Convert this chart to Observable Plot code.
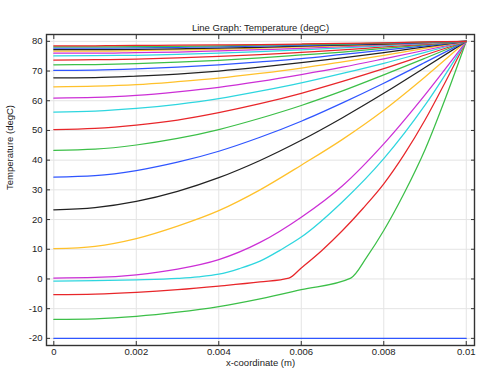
<!DOCTYPE html>
<html><head><meta charset="utf-8">
<script src="https://cdn.jsdelivr.net/npm/d3@7"></script>
<script src="https://cdn.jsdelivr.net/npm/@observablehq/plot@0.6"></script>
<style>html,body{margin:0;padding:0;background:#fff;}</style>
</head><body><div id="chart"></div>
<script>
// ---- text ----
const titleText = "Line Graph: Temperature (degC)";
const xLabelText = "x-coordinate (m)";
const yLabelText = "Temperature (degC)";

// ---- ticks ----
const xTicks = [0, 0.002, 0.004, 0.006, 0.008, 0.01];
const xTickLabels = ["0", "0.002", "0.004", "0.006", "0.008", "0.01"];
const yTicks = [-20, -10, 0, 10, 20, 30, 40, 50, 60, 70, 80];

// ---- colour cycle ----
const palette = ["#2f55ff", "#3cbf48", "#e8262a", "#2ed6df", "#cc2fd6", "#ffc12b", "#222222"];

// ---- x sample positions ----
const X11 = [0, 0.001, 0.002, 0.003, 0.004, 0.005, 0.006, 0.007, 0.008, 0.009, 0.01];
const X02 = [0, 0.001, 0.002, 0.003, 0.004, 0.005, 0.006, 0.0072, 0.0076, 0.008, 0.0085, 0.009, 0.0095, 0.01];
const X03 = [0, 0.001, 0.002, 0.003, 0.004, 0.005, 0.0057, 0.006, 0.0065, 0.007, 0.0075, 0.008, 0.0085, 0.009, 0.0095, 0.01];
const X04 = [0, 0.001, 0.002, 0.003, 0.0035, 0.004, 0.0045, 0.005, 0.0055, 0.006, 0.007, 0.008, 0.009, 0.01];

// ---- temperature series (degC), one per time step ----
const T01 = [-20, -20, -20, -20, -20, -20, -20, -20, -20, -20, -20];
const T02 = [-13.6, -13.4, -12.6, -11.2, -9.3, -6.7, -3.6, 0.3, 7.6, 16.3, 29.0, 43.5, 61.0, 80];
const T03 = [-5.3, -5.1, -4.5, -3.6, -2.4, -1.0, 0.3, 3.7, 9.6, 16.3, 23.8, 32.0, 42.0, 53.5, 66.5, 80];
const T04 = [-0.7, -0.6, -0.3, 0.2, 0.7, 1.6, 3.5, 6.0, 9.8, 14.1, 26.0, 40.5, 58.5, 80];
const T05 = [0.3, 0.5, 1.4, 3.3, 6.5, 12.3, 20.8, 31.4, 45.5, 62.0, 80];
const T06 = [10.2, 11.0, 13.6, 17.8, 23.0, 30.0, 38.3, 47.0, 56.8, 68.0, 80];
const T07 = [23.3, 24.0, 26.1, 29.5, 34.1, 39.9, 46.7, 54.3, 62.5, 71.2, 80];
const T08 = [34.3, 34.8, 36.5, 39.3, 43.0, 47.7, 53.1, 59.3, 65.9, 72.9, 80];
const T09 = [43.3, 43.7, 45.1, 47.3, 50.3, 54.1, 58.4, 63.3, 68.7, 74.3, 80];
const T10 = [50.3, 50.7, 51.8, 53.5, 56.0, 59.0, 62.5, 66.5, 70.8, 75.4, 80];
const T11 = [56.2, 56.5, 57.4, 58.8, 60.7, 63.2, 66.0, 69.2, 72.6, 76.3, 80];
const T12 = [60.9, 61.1, 61.8, 63.0, 64.5, 66.5, 68.8, 71.3, 74.1, 77.0, 80];
const T13 = [64.7, 64.9, 65.4, 66.4, 67.6, 69.2, 71.0, 73.1, 75.3, 77.6, 80];
const T14 = [67.7, 67.8, 68.3, 69.0, 70.0, 71.3, 72.8, 74.4, 76.2, 78.1, 80];
const T15 = [70.2, 70.3, 70.7, 71.3, 72.1, 73.1, 74.2, 75.6, 77.0, 78.5, 80];
const T16 = [72.1, 72.2, 72.5, 73.0, 73.6, 74.4, 75.4, 76.4, 77.6, 78.8, 80];
const T17 = [73.7, 73.8, 74.0, 74.4, 74.9, 75.5, 76.3, 77.1, 78.1, 79.0, 80];
const T18 = [75.1, 75.2, 75.3, 75.6, 76.0, 76.5, 77.1, 77.8, 78.5, 79.2, 80];
const T19 = [76.0, 76.0, 76.2, 76.4, 76.8, 77.2, 77.6, 78.2, 78.8, 79.4, 80];
const T20 = [76.7, 76.7, 76.9, 77.1, 77.3, 77.7, 78.1, 78.5, 79.0, 79.5, 80];
const T21 = [77.2, 77.2, 77.3, 77.5, 77.7, 78.0, 78.4, 78.7, 79.1, 79.6, 80];
const T22 = [77.7, 77.7, 77.8, 78.0, 78.1, 78.4, 78.6, 79.0, 79.3, 79.6, 80];
const T23 = [78.1, 78.1, 78.2, 78.3, 78.5, 78.7, 78.9, 79.1, 79.4, 79.7, 80];
const T24 = [78.5, 78.5, 78.6, 78.7, 78.8, 78.9, 79.1, 79.3, 79.5, 79.8, 80];

const seriesList = [
  [X11, T01], [X02, T02], [X03, T03], [X04, T04], [X11, T05], [X11, T06],
  [X11, T07], [X11, T08], [X11, T09], [X11, T10], [X11, T11], [X11, T12],
  [X11, T13], [X11, T14], [X11, T15], [X11, T16], [X11, T17], [X11, T18],
  [X11, T19], [X11, T20], [X11, T21], [X11, T22], [X11, T23], [X11, T24]
];

const rows = [];
seriesList.forEach(([xs, ts], k) => {
  xs.forEach((x, i) => rows.push({k, x, T: ts[i], color: palette[k % palette.length]}));
});

const font = "'Liberation Sans', Arial, sans-serif";

const chart = Plot.plot({
  width: 480,
  height: 370,
  marginLeft: 46,
  marginRight: 6,
  marginTop: 34,
  marginBottom: 25,
  style: {fontFamily: font, fontSize: "9.5px", background: "#fff", color: "#222", overflow: "visible"},
  x: {domain: [-0.000177, 0.0102]},
  y: {domain: [-22.4, 82.3]},
  color: {type: "identity"},
  marks: [
    Plot.gridX(xTicks, {stroke: "#e4e4e4", strokeOpacity: 1}),
    Plot.gridY(yTicks, {stroke: "#e4e4e4", strokeOpacity: 1}),
    Plot.line(rows, {x: "x", y: "T", z: "k", stroke: "color", strokeWidth: 1.25, curve: "monotone-x"}),
    Plot.frame({stroke: "#333", strokeWidth: 1.4}),
    Plot.axisX(xTicks, {anchor: "bottom", tickSize: -4, tickPadding: 7, tickFormat: d => xTickLabels[xTicks.indexOf(d)], label: null, stroke: "#333"}),
    Plot.axisX(xTicks, {anchor: "top", tickSize: -4, tickFormat: () => "", label: null, stroke: "#333"}),
    Plot.axisY(yTicks, {anchor: "left", tickSize: -4, tickPadding: 8, tickFormat: d => String(d), label: null, stroke: "#333"}),
    Plot.axisY(yTicks, {anchor: "right", tickSize: -4, tickFormat: () => "", label: null, stroke: "#333"}),
    Plot.text([titleText], {frameAnchor: "top", dy: -10, fontSize: 9.5, fill: "#222"}),
    Plot.text([xLabelText], {frameAnchor: "bottom", dy: 20, fontSize: 9.5, fill: "#222"}),
    Plot.text([yLabelText], {frameAnchor: "left", dx: -37, rotate: -90, fontSize: 9.5, fill: "#222"})
  ]
});
document.getElementById("chart").appendChild(chart);
</script>
</body></html>
